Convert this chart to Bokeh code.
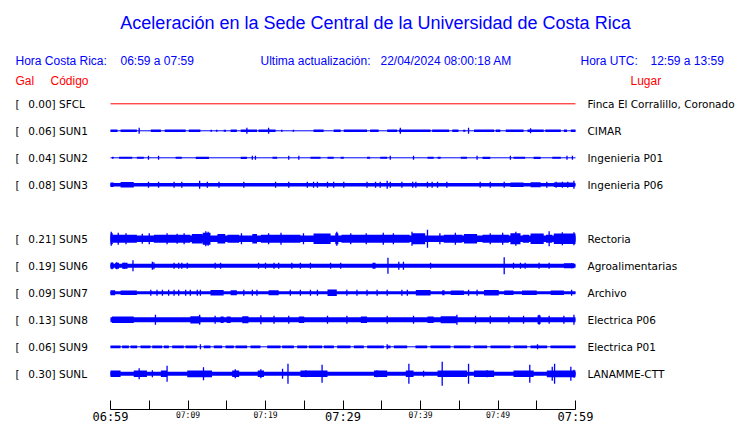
from bokeh.plotting import figure
from bokeh.models import Range1d, LinearAxis, FixedTicker
from bokeh.layouts import column
from bokeh.core.properties import value
from bokeh.embed import file_html
from bokeh.resources import INLINE

# ---------------- data ----------------
codes = ["SFCL", "SUN1", "SUN2", "SUN3", "SUN5", "SUN6", "SUN7", "SUN8", "SUN9", "SUNL"]
gal = [0.00, 0.06, 0.04, 0.08, 0.21, 0.19, 0.09, 0.13, 0.06, 0.30]
places = ["Finca El Corralillo, Coronado", "CIMAR", "Ingenieria P01", "Ingenieria P06",
          "Rectoria", "Agroalimentarias", "Archivo", "Electrica P06", "Electrica P01", "LANAMME-CTT"]
slots = [0, 1, 2, 3, 5, 6, 7, 8, 9, 10]
trace_colors = ["#ff0000"] + ["#0000ff"] * 9

# steady noise level of each trace (half amplitude, relative units)
core = [0.0, 0.0, 0.0, 1.7, 3.2, 2.0, 1.5, 2.5, 0.0, 2.0]

# bursts: (start minute, end minute, half amplitude)
blocks = {
    "SFCL": [],
    "SUN1": [(0, 0.9, 1.2), (1.3, 3.4, 1.2), (5.2, 6.5, 1.2), (7.0, 9.7, 1.2), (10.1, 11.6, 1.2),
             (12.9, 13.1, 1.0), (13.6, 13.8, 1.0), (14.6, 14.9, 1.0), (15.5, 16.3, 1.2),
             (16.8, 18.9, 1.2), (19.1, 21.3, 1.2), (22.0, 22.2, 1.0), (23.5, 23.7, 1.0),
             (26.2, 27.5, 1.2), (28.8, 29.7, 1.2), (30.1, 33.1, 1.2), (33.5, 34.6, 1.2),
             (35.7, 37.0, 1.2), (37.2, 41.3, 1.2), (41.5, 43.7, 1.2), (44.1, 44.9, 1.2),
             (45.5, 45.8, 1.0), (46.9, 49.5, 1.2), (49.7, 50.3, 1.2), (51.0, 53.3, 1.2),
             (53.8, 55.9, 1.2), (56.1, 58.1, 1.2), (58.5, 58.9, 1.2), (59.4, 60, 1.2)],
    "SUN2": [(0.2, 0.4, 1.0), (1.1, 2.8, 1.0), (3.4, 4.3, 1.0), (8.4, 9.2, 1.0), (11.0, 12.7, 1.1),
             (16.8, 17.6, 1.1), (20.9, 21.5, 1.0), (25.8, 27.1, 1.0), (28.0, 28.8, 1.0),
             (29.7, 30.1, 1.0), (33.1, 33.5, 1.0), (34.8, 35.7, 1.0), (40.9, 41.7, 1.0),
             (42.2, 42.6, 1.0), (45.2, 46.0, 1.0), (48.0, 49.0, 1.1), (52.0, 53.5, 1.0),
             (54.6, 55.5, 1.1), (57.0, 58.1, 1.0)],
    "SUN3": [(0, 0.4, 2.3), (1.3, 3.0, 2.8), (51.6, 53.3, 2.3), (54.2, 55.5, 2.5), (57.2, 59.8, 2.3)],
    "SUN5": [(0, 0.3, 5.5), (0.3, 3.4, 4.0), (5.6, 10.3, 4.0), (10.5, 11.9, 4.8), (11.9, 12.9, 6.0),
             (13.8, 14.8, 4.8), (15.1, 16.6, 4.0), (18.3, 18.9, 4.8), (19.4, 24.5, 4.0),
             (26.2, 28.4, 5.2), (29.0, 29.4, 5.5), (29.8, 38.6, 4.0), (38.9, 40.6, 5.5),
             (43.0, 45.4, 4.0), (45.6, 47.3, 4.8), (48.0, 51.4, 4.0), (51.6, 52.9, 5.5),
             (53.2, 54.0, 4.0), (54.2, 55.9, 5.2), (56.2, 57.0, 4.0), (57.2, 60, 5.2)],
    "SUN6": [(0, 0.4, 3), (0.6, 1.1, 3), (1.5, 2.2, 3), (33.8, 34.2, 3), (58.5, 59.8, 2.5)],
    "SUN7": [(0, 0.6, 2.5), (1.3, 3.4, 2.3), (12.9, 14.6, 2.8), (15.5, 16.3, 2.5), (20.4, 21.7, 2.5),
             (28.0, 29.2, 3.2), (39.4, 41.3, 2.8), (42.8, 43.1, 2.5), (43.9, 45.6, 2.3),
             (48.2, 50.1, 2.8), (50.8, 52.0, 2.3), (53.1, 55.0, 2.3), (56.8, 58.5, 2.3)],
    "SUN8": [(0.2, 3.0, 3.3), (10.3, 11.6, 3.6), (14.2, 14.6, 3.3), (15.0, 15.5, 3.3), (17.0, 17.8, 3.5),
             (24.3, 25.0, 3.3), (32.3, 33.1, 3.3), (40.9, 41.7, 3.3), (42.6, 44.7, 3.5),
             (55.1, 55.5, 4.2)],
    "SUN9": [(0, 1.29, 1.4), (1.5, 2.37, 1.4), (2.58, 3.44, 1.4), (3.87, 5.16, 1.4), (5.38, 6.67, 1.4),
             (6.88, 7.53, 1.4), (7.96, 9.46, 1.4), (9.68, 11.18, 1.4), (12.04, 12.9, 1.4),
             (13.33, 14.41, 1.4), (14.84, 15.91, 1.4), (16.13, 17.63, 1.4), (18.06, 19.35, 1.4),
             (20.22, 21.94, 1.4), (22.15, 23.66, 1.4), (24.09, 25.38, 1.4), (25.59, 27.31, 1.4),
             (27.53, 28.82, 1.4), (29.25, 30.97, 1.4), (31.4, 32.69, 1.4), (33.12, 35.27, 1.4),
             (35.7, 36.13, 1.4), (36.56, 38.28, 1.4), (39.35, 40.86, 1.4), (41.29, 43.87, 1.4),
             (44.3, 46.45, 1.4), (46.88, 48.6, 1.4), (49.03, 51.61, 1.4), (52.04, 53.76, 1.4),
             (54.19, 56.34, 1.4), (56.77, 60, 1.4)],
    "SUNL": [(0, 1.3, 3.2), (3.0, 4.7, 3.2), (6.5, 7.3, 3.2), (9.9, 13.1, 3.4), (15.7, 16.6, 3.2),
             (19.0, 19.8, 3.2), (24.5, 28.0, 3.2), (34.0, 35.7, 3.2), (38.1, 39.1, 3.2),
             (42.2, 46.0, 3.2), (46.9, 49.5, 3.2), (52.0, 54.6, 3.2), (56.3, 60, 3.4)],
}

# isolated peaks: (minute, half amplitude)
spikes = {
    "SFCL": [],
    "SUN1": [(3.7, 3), (17.6, 3), (20.4, 3), (37.4, 3), (46.2, 3), (54.2, 2.5)],
    "SUN2": [(4.9, 2), (6.2, 2), (18.3, 2), (18.7, 2), (23.0, 2), (24.3, 2), (36.1, 2), (39.1, 2),
             (47.3, 2), (51.6, 2), (58.9, 2), (59.6, 2)],
    "SUN3": [(4.9, 3), (6.2, 3), (8.2, 3), (9.2, 3), (11.5, 4), (12.5, 3), (14.0, 3), (17.2, 3),
             (21.3, 3), (23.0, 3), (25.4, 3), (26.2, 3), (26.7, 3), (28.0, 3), (28.8, 3), (30.1, 3),
             (33.1, 3), (34.2, 3), (34.8, 3), (35.7, 4), (36.1, 3), (37.6, 3), (39.0, 3), (39.4, 3),
             (40.9, 3), (41.5, 3), (42.2, 3), (43.4, 3), (47.7, 3), (49.0, 3), (50.8, 3), (56.3, 3),
             (57.5, 3), (58.3, 3), (59.0, 3), (59.8, 4)],
    "SUN5": [(0.1, 7), (1.0, 6), (2.0, 5.5), (4.1, 5), (5.0, 5.5), (7.3, 5.5), (8.6, 5), (9.5, 5.5),
             (12.3, 7.5), (12.6, 7), (16.9, 5.5), (20.4, 5.5), (22.0, 6), (24.9, 5.5), (29.2, 7),
             (31.0, 5.5), (33.0, 5.5), (35.2, 6), (36.5, 5.5), (38.9, 7), (40.9, 9), (42.5, 5.5),
             (44.5, 6), (49.0, 5.5), (50.6, 6), (52.3, 7), (56.6, 7.5), (58.3, 6.5), (59.8, 6.5)],
    "SUN6": [(0.2, 3.5), (0.8, 3.5), (1.8, 3), (2.9, 5.5), (5.4, 4), (5.6, 3.5), (8.2, 3), (8.8, 3),
             (9.2, 3), (9.9, 3), (13.5, 3), (14.2, 3), (19.1, 3), (20.0, 3), (21.1, 3), (21.7, 3),
             (23.4, 3), (24.5, 3), (25.8, 3), (28.4, 3), (29.7, 3), (35.8, 8), (37.2, 4), (37.8, 4),
             (41.3, 3), (50.8, 8.5), (52.0, 3), (52.9, 3), (53.5, 3), (55.3, 3), (56.6, 3), (59.5, 2.5)],
    "SUN7": [(5.2, 3), (6.0, 3), (6.7, 3), (7.5, 3), (8.2, 3), (8.8, 3), (9.7, 3), (10.3, 3),
             (11.2, 3), (11.6, 3), (17.2, 3), (18.3, 3), (18.9, 3), (23.2, 3), (24.5, 3), (25.8, 3),
             (26.7, 3), (30.5, 3), (31.8, 3), (33.1, 3), (34.4, 3), (35.7, 3), (37.6, 3), (38.3, 3),
             (46.2, 3), (47.3, 3), (59.5, 3)],
    "SUN8": [(5.8, 5), (11.5, 5), (13.5, 4), (19.4, 4.5), (21.1, 4), (23.0, 4), (28.0, 4), (30.5, 4),
             (35.7, 4), (39.1, 4), (44.7, 5), (47.1, 4), (49.0, 4), (51.4, 4), (53.3, 4), (55.3, 5),
             (56.6, 4), (58.5, 4), (59.8, 5)],
    "SUN9": [(11.6, 2.5), (35.7, 2.5), (55.1, 2.5)],
    "SUNL": [(3.7, 5.5), (5.4, 3.5), (7.3, 8), (12.0, 6.5), (16.1, 4.5), (19.4, 4.5), (22.2, 5),
             (22.9, 10), (25.2, 3.5), (27.3, 9), (34.4, 3.5), (38.5, 10), (40.4, 3), (42.8, 12),
             (46.2, 10), (48.6, 3.5), (54.1, 9), (57.0, 7), (57.3, 10), (59.4, 7), (59.8, 4)],
}

tick_minutes = [0, 10, 20, 30, 40, 50, 60]
tick_labels = ["06:59", "07:09", "07:19", "07:29", "07:39", "07:49", "07:59"]
tick_big = [True, False, False, True, False, False, True]
minor_minutes = [0, 5, 10, 15, 20, 25, 30, 35, 40, 45, 50, 55, 60]

# ---------------- layout helpers ----------------
W = 740
MAIN_H, STRIP_H = 411, 12
AXIS_PY = 409                         # page y of the time axis line
PX_LEFT, PX_PER_MIN = 110.0, 7.75     # page x of minute 0, pixels per minute
PY_TOP, PX_PER_SLOT = 103.3, 27.0     # page y of first trace, pixels per slot
GAIN = 1.0 / PX_PER_SLOT              # relative amplitude -> slot units


def mx(px):
    return (px - PX_LEFT) / PX_PER_MIN


def sy(py):
    return (py - PY_TOP) / PX_PER_SLOT


xr = Range1d(mx(0), mx(W))
p = figure(width=W, height=MAIN_H, x_range=xr,
           y_range=Range1d(sy(AXIS_PY), sy(0)),
           x_axis_type=None, y_axis_type=None, toolbar_location=None,
           output_backend="svg", min_border_left=0, min_border_right=0,
           min_border_top=0, min_border_bottom=MAIN_H - AXIS_PY,
           outline_line_color=None, background_fill_color="white",
           border_fill_color="white")

# ---------------- traces ----------------
for code, s, c, col in zip(codes, slots, core, trace_colors):
    p.segment(x0=[0], x1=[60], y0=[s], y1=[s], line_color=col, line_width=1)
    if c > 0:
        p.quad(left=[0], right=[60], bottom=[s - c * GAIN], top=[s + c * GAIN],
               fill_color=col, line_color=None)
    b = blocks[code]
    if b:
        p.quad(left=[t0 for t0, _, _ in b], right=[t1 for _, t1, _ in b],
               bottom=[s - a * GAIN for _, _, a in b], top=[s + a * GAIN for _, _, a in b],
               fill_color=col, line_color=None)
    sp = spikes[code]
    if sp:
        p.segment(x0=[t for t, _ in sp], x1=[t for t, _ in sp],
                  y0=[s - a * GAIN for _, a in sp], y1=[s + a * GAIN for _, a in sp],
                  line_color=col, line_width=1.3)

# ---------------- row labels (y = visual centre of the text) ----------------
ROW_FONT = value("DejaVu Sans")
ymid = [s + 0.4 / PX_PER_SLOT for s in slots]
p.text(x=[mx(15)] * len(slots), y=ymid, text=["["] * len(slots),
       text_font=ROW_FONT, text_font_size="10.5px", text_color="black",
       text_baseline="alphabetic", text_align="left")
p.text(x=[mx(27.7)] * len(slots), y=ymid,
       text=[f"{g:.2f}] {c}" for g, c in zip(gal, codes)],
       text_font=ROW_FONT, text_font_size="10.5px", text_color="black",
       text_baseline="alphabetic", text_align="left")
p.text(x=[mx(587)] * len(slots), y=ymid, text=places,
       text_font=ROW_FONT, text_font_size="10.5px", text_color="black",
       text_baseline="alphabetic", text_align="left")

# ---------------- titles / header ----------------
HEAD_FONT = value("Liberation Sans")
p.text(x=[mx(375)], y=[sy(22)],
       text=["Aceleración en la Sede Central de la Universidad de Costa Rica"],
       text_font=HEAD_FONT, text_font_size="18px", text_color="#0000ff",
       text_baseline="alphabetic", text_align="center")

head_x = [15, 120, 260, 380, 580, 650]
head_t = ["Hora Costa Rica:", "06:59 a 07:59", "Ultima actualización:",
          "22/04/2024 08:00:18 AM", "Hora UTC:", "12:59 a 13:59"]
p.text(x=[mx(v) for v in head_x], y=[sy(60)] * len(head_x), text=head_t,
       text_font=HEAD_FONT, text_font_size="12px", text_color="#0000ff",
       text_baseline="alphabetic", text_align="left")

p.text(x=[mx(15), mx(50), mx(630)], y=[sy(80)] * 3, text=["Gal", "Código", "Lugar"],
       text_font=HEAD_FONT, text_font_size="12px", text_color="#ff0000",
       text_baseline="alphabetic", text_align="left")

# ---------------- time axis (line + ticks) ----------------
ax = LinearAxis(ticker=FixedTicker(ticks=[], minor_ticks=minor_minutes), bounds=(0, 60),
                axis_line_color="black", axis_line_width=1,
                major_tick_in=0, major_tick_out=0,
                minor_tick_in=9, minor_tick_out=0, minor_tick_line_color="black",
                major_label_standoff=0)
p.add_layout(ax, "below")

# ---------------- tick labels strip ----------------
strip = figure(width=W, height=STRIP_H, x_range=xr,
               y_range=Range1d(MAIN_H + STRIP_H, MAIN_H),
               x_axis_type=None, y_axis_type=None, toolbar_location=None,
               output_backend="svg", min_border_left=0, min_border_right=0,
               min_border_top=0, min_border_bottom=0, outline_line_color=None,
               background_fill_color="white", border_fill_color="white")
big_m = [m for m, b in zip(tick_minutes, tick_big) if b]
big_l = [l for l, b in zip(tick_labels, tick_big) if b]
small_m = [m for m, b in zip(tick_minutes, tick_big) if not b]
small_l = [l for l, b in zip(tick_labels, tick_big) if not b]
strip.text(x=big_m, y=[416.3] * len(big_m), text=big_l, text_font=value("DejaVu Sans Mono"),
           text_font_size="12px", text_color="black", text_align="center",
           text_baseline="alphabetic")
strip.text(x=small_m, y=[414.5] * len(small_m), text=small_l, text_font=value("DejaVu Sans Mono"),
           text_font_size="8px", text_color="black", text_align="center",
           text_baseline="alphabetic")

layout = column(p, strip, spacing=0)
open("out.html", "w").write(file_html(layout, INLINE))
